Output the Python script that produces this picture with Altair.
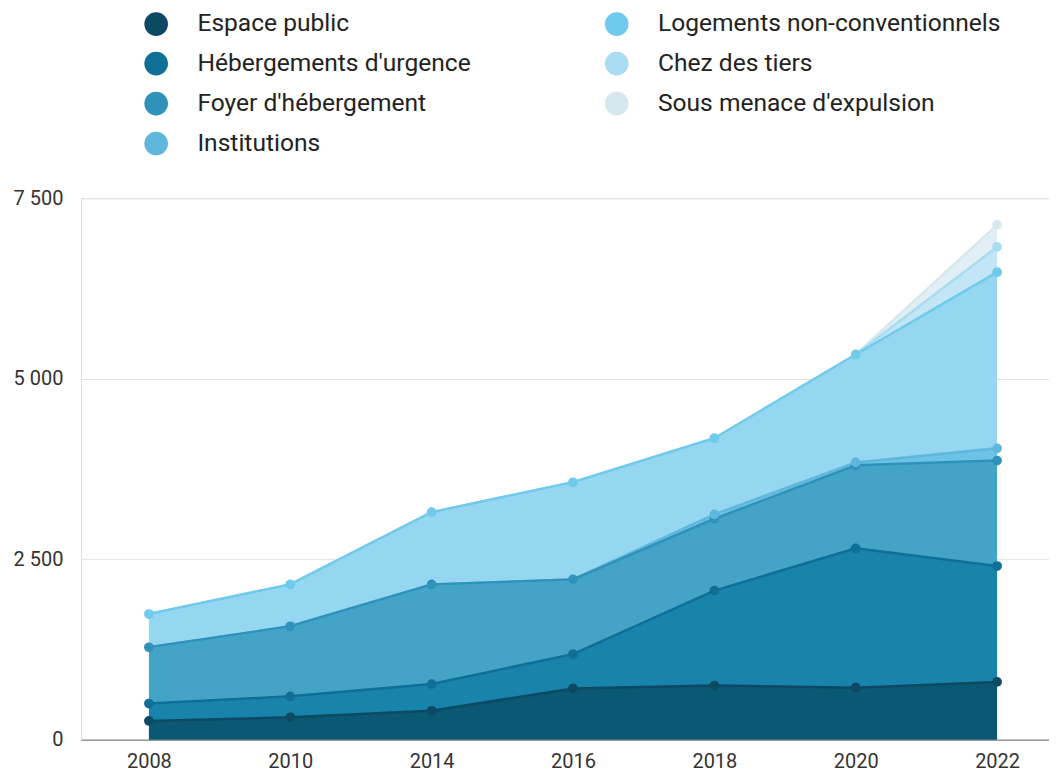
import altair as alt
import pandas as pd

years = ["2008", "2010", "2014", "2016", "2018", "2020", "2022"]
series = [
    "Espace public",
    "Hébergements d'urgence",
    "Foyer d'hébergement",
    "Institutions",
    "Logements non-conventionnels",
    "Chez des tiers",
    "Sous menace d'expulsion",
]
espace_public = [260, 310, 400, 710, 750, 720, 800]
hebergements_urgence = [240, 290, 370, 475, 1315, 1930, 1605]
foyer_hebergement = [780, 970, 1380, 1035, 995, 1150, 1460]
institutions = [0, 0, 0, 0, 60, 40, 170]
logements_non_conv = [460, 580, 1000, 1345, 1055, 1495, 2440]
chez_tiers = [0, 0, 0, 0, 0, 0, 350]
menace_expulsion = [0, 0, 0, 0, 0, 0, 305]
y_ticks = [0, 2500, 5000, 7500]

point_colors = ["#0b4a62", "#0f6f96", "#2f92bb", "#5fb8dc", "#6fcaec", "#a8dcf1", "#d5e8ef"]
fill_colors = ["#0b5874", "#1883ab", "#44a4c8", "#6cc3e6", "#95d6f1", "#c2e6f5", "#e1eef3"]

all_values = [espace_public, hebergements_urgence, foyer_hebergement, institutions,
              logements_non_conv, chez_tiers, menace_expulsion]

rows = []
for i, (name, vals) in enumerate(zip(series, all_values)):
    for y, v in zip(years, vals):
        rows.append({"year": y, "series": name, "value": v, "idx": i})
df = pd.DataFrame(rows)

base = alt.Chart(df).transform_stack(
    stack="value",
    groupby=["year"],
    sort=[alt.SortField("idx", order="ascending")],
    as_=["v0", "v1"],
)

x_enc = alt.X(
    "year:O",
    sort=years,
    scale=alt.Scale(type="point", padding=0.424, align=0.567),
    axis=alt.Axis(
        title=None, labelAngle=0, ticks=False, domain=True, domainColor="#9a9a9a",
        domainWidth=1.5, grid=False, labelFontSize=20, labelPadding=12,
        labelColor="#333333", labelFont="Roboto",
    ),
)
y_scale = alt.Scale(domain=[0, 7500], nice=False)
y_enc = alt.Y(
    "v1:Q",
    scale=y_scale,
    axis=alt.Axis(
        title=None, values=y_ticks, domain=False, ticks=False, grid=True,
        gridColor="#e2e2e2", gridWidth=1, labelFontSize=20, labelPadding=18,
        labelColor="#333333", labelFont="Roboto",
        labelExpr="replace(format(datum.value, ','), ',', ' ')",
    ),
)

areas = base.mark_area(opacity=1).encode(
    x=x_enc,
    y=y_enc,
    y2="v0:Q",
    fill=alt.Fill("series:N", scale=alt.Scale(domain=series[::-1], range=fill_colors[::-1]), legend=None),
)

line_layers = []
for k in reversed(range(len(series))):
    line_layers.append(
        base.transform_filter(alt.datum.series == series[k]).mark_line(
            strokeWidth=2.5
        ).encode(
            x=alt.X("year:O", sort=years),
            y=alt.Y("v1:Q", scale=y_scale),
            color=alt.value(point_colors[k]),
        )
    )

points = base.transform_filter(alt.datum.value > 0).mark_circle(size=95, opacity=1).encode(
    x=alt.X("year:O", sort=years),
    y=alt.Y("v1:Q", scale=y_scale),
    color=alt.Color(
        "series:N",
        scale=alt.Scale(domain=series, range=point_colors),
        legend=alt.Legend(
            title=None, orient="none", legendX=63, legendY=-187, columns=2,
            symbolType="circle", symbolSize=560, symbolStrokeWidth=0, symbolOpacity=1,
            labelFontSize=24.6, labelFont="Roboto", labelColor="#222222",
            labelOffset=29, rowPadding=14, columnPadding=133, labelLimit=600,
        ),
    ),
)

chart = alt.layer(areas, *line_layers, points).properties(
    width=969, height=542,
    padding={"left": 5, "top": 3, "right": 0, "bottom": 0},
).configure_view(stroke=None).configure(background="white")

chart.save("out.html", embed_options={"renderer": "svg", "actions": False})
